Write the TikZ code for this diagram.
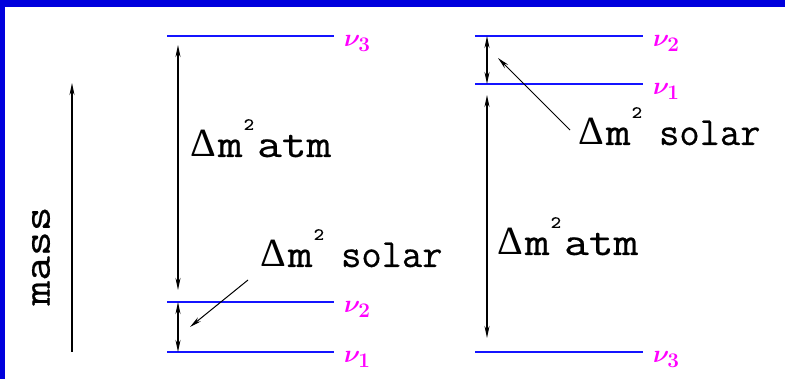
\documentclass[tikz,border=0pt]{standalone}
\usepackage{fontspec}
\usetikzlibrary{arrows.meta}
\setmonofont[FakeStretch=1.2,FakeBold=0.5]{Latin Modern Mono}
\newfontfamily\deltafont{Liberation Serif}
\definecolor{frameblue}{RGB}{0,0,221}
\definecolor{lvlblue}{RGB}{20,20,255}
\definecolor{numag}{RGB}{255,0,255}
\newcommand{\dmsq}{{\deltafont Δ}\kern2pt m\kern1pt\raisebox{0.68em}{\fontsize{17}{17}\selectfont 2}\kern3pt}
\tikzset{
  lvl/.style  ={line width=2pt, lvlblue},
  nulab/.style={text=numag, font=\fontsize{28}{28}\selectfont\boldmath, anchor=base west,
                inner sep=0pt, xshift=9pt, yshift=-11pt},
  dmlab/.style={font=\ttfamily\fontsize{40}{40}\selectfont, anchor=base west, inner sep=0pt},
  gap/.style  ={{Stealth[length=12pt,width=5pt]}-{Stealth[length=12pt,width=5pt]}, line width=1.4pt},
  ptr/.style  ={-{Stealth[length=12pt,width=5pt]}, line width=1pt},
}
\begin{document}
\begin{tikzpicture}[x=1pt,y=-1pt]
  \useasboundingbox (0,0) rectangle (785,379);
  % frame: only the top and left edges are in view
  \fill[frameblue] (0,0) rectangle (785,7);
  \fill[frameblue] (0,0) rectangle (5,379);

  % ---- mass axis ----------------------------------------------------------
  \coordinate (m0) at (72,352);
  \coordinate (m1) at (72,83);
  \draw[ptr, line width=1.4pt] (m0) -- (m1);
  \node[dmlab, anchor=center, rotate=90] (mass) at (41,256) {mass};

  % ---- normal ordering ----------------------------------------------------
  \foreach \nm/\y/\k in {a3/36/3, a2/302/2, a1/352/1} {
    \draw[lvl] (167,\y) -- (334,\y) node[nulab] (\nm) {$\nu_{\k}$};
    \coordinate (\nm x) at (178,\y);
  }
  \draw[gap, shorten <=9pt, shorten >=12pt] (a3x) -- (a2x);
  \draw[gap] (a2x) -- (a1x);
  \node[dmlab] (atmA) at (190,157) {\dmsq atm};
  \node[dmlab] (solA) at (260,267) {\dmsq\kern14pt\scalebox{0.82}[1]{solar}};
  \coordinate (solAfrom) at (248,280);
  \coordinate (solAto) at (190,327);
  \draw[ptr] (solAfrom) -- (solAto);

  % ---- inverted ordering --------------------------------------------------
  \foreach \nm/\y/\k in {b2/36/2, b1/84/1, b3/352/3} {
    \draw[lvl] (475,\y) -- (643,\y) node[nulab] (\nm) {$\nu_{\k}$};
    \coordinate (\nm x) at (487,\y);
  }
  \draw[gap] (b2x) -- (b1x);
  \draw[gap, shorten <=11pt, shorten >=14pt] (b1x) -- (b3x);
  \node[dmlab] (atmB) at (497,255) {\dmsq atm};
  \node[dmlab] (solB) at (578,145) {\dmsq\kern14pt\scalebox{0.82}[1]{solar}};
  \coordinate (solBfrom) at (570,130);
  \coordinate (solBto) at (498,58);
  \draw[ptr] (solBfrom) -- (solBto);
\end{tikzpicture}
\end{document}
